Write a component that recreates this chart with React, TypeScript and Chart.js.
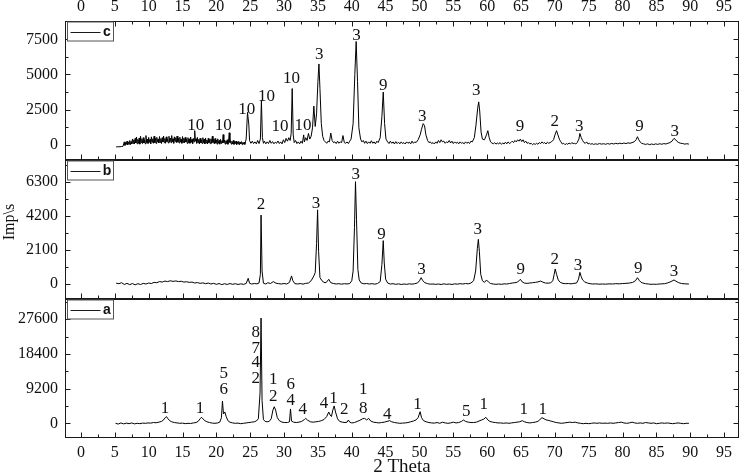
import React, { useEffect, useRef } from 'react';
import { Chart, registerables } from 'chart.js';

Chart.register(...registerables);

// ---------- data ----------
const thetaMin = -2.36;
const thetaMax = 97.2;
const thetaTicks = [0, 5, 10, 15, 20, 25, 30, 35, 40, 45, 50, 55, 60, 65, 70, 75, 80, 85, 90, 95];

const yTicksC = [0, 2500, 5000, 7500];
const yTicksB = [0, 2100, 4200, 6300];
const yTicksA = [0, 9200, 18400, 27600];

const yRangeC = [-1090, 8810];
const yRangeB = [-926, 7659];
const yRangeA = [-3897, 32955];

const panelNames = ['c', 'b', 'a'];

// sample c: [2theta, Imp/s]
const patternC: [number, number][] = [
  [5.2, -150], [5.6, -150], [6.0, -130], [6.2, -120],
  [6.4, 200], [6.5, -50], [6.6, 150], [6.7, 20], [6.8, 250], [6.9, -20], [7.0, 180], [7.1, 40], [7.2, 300], [7.3, 0],
  [7.4, 220], [7.5, 60], [7.6, 400], [7.7, 80], [7.8, 350], [7.9, 50], [8.0, 450], [8.1, 120], [8.2, 550], [8.3, 60],
  [8.4, 380], [8.5, 100], [8.6, 480], [8.7, 40], [8.8, 600], [8.9, 150], [9.0, 420], [9.1, 80], [9.2, 500], [9.3, 120],
  [9.4, 350], [9.5, 60], [9.6, 650], [9.7, 140], [9.8, 400], [9.9, 90], [10.0, 520], [10.1, 160], [10.2, 380], [10.3, 60],
  [10.4, 560], [10.5, 180], [10.6, 420], [10.7, 100], [10.8, 600], [10.9, 140], [11.0, 450], [11.1, 90], [11.2, 520], [11.3, 200],
  [11.4, 400], [11.5, 120], [11.6, 580], [11.7, 160], [11.8, 430], [11.9, 80], [12.0, 500], [12.1, 200], [12.2, 620], [12.3, 140],
  [12.4, 450], [12.5, 100], [12.6, 560], [12.7, 220], [12.8, 400], [12.9, 120], [13.0, 600], [13.1, 180], [13.2, 480], [13.3, 140],
  [13.4, 650], [13.5, 200], [13.6, 420], [13.7, 100], [13.8, 560], [13.9, 240], [14.0, 500], [14.1, 150], [14.2, 620], [14.3, 180],
  [14.4, 450], [14.5, 120], [14.6, 540], [14.7, 200], [14.8, 400], [14.9, 100], [15.0, 580], [15.1, 160], [15.2, 460], [15.3, 120],
  [15.4, 520], [15.5, 200], [15.6, 380], [15.7, 90], [15.8, 500], [15.9, 140], [16.0, 420], [16.1, 100], [16.2, 550], [16.3, 160],
  [16.4, 380], [16.5, 80], [16.6, 450], [16.7, 200], [16.8, 1000], [16.9, 250], [17.0, 420], [17.1, 100], [17.2, 520], [17.3, 140],
  [17.4, 380], [17.5, 60], [17.6, 460], [17.7, 120], [17.8, 350], [17.9, 80], [18.0, 500], [18.1, 150], [18.2, 400], [18.3, 60],
  [18.4, 480], [18.5, 120], [18.6, 330], [18.7, 50], [18.8, 450], [18.9, 140], [19.0, 360], [19.1, 70], [19.2, 420], [19.3, 100],
  [19.4, 600], [19.5, 150], [19.6, 380], [19.7, 60], [19.8, 440], [19.9, 110], [20.0, 320], [20.1, 40], [20.2, 420], [20.3, 100],
  [20.4, 300], [20.5, 40], [20.6, 380], [20.7, 90], [20.8, 280], [20.9, 120], [21.0, 720], [21.1, 150], [21.2, 330], [21.3, 40],
  [21.4, 280], [21.5, 80], [21.6, 350], [21.7, 30], [21.8, 250], [21.9, 850], [22.0, 150], [22.1, 280], [22.2, 40], [22.3, 240],
  [22.4, 60], [22.5, 300], [22.6, 20], [22.7, 220], [22.8, 70], [22.9, 260], [23.0, 10], [23.1, 200], [23.2, 50], [23.3, 240],
  [23.4, 0], [23.5, 180], [23.6, 60], [23.7, 220], [23.8, 10], [23.9, 160], [24.0, 40], [24.1, 180], [24.2, 20], [24.3, 200],
  [24.4, 400], [24.6, 2300], [24.8, 1400], [24.9, 300], [25.1, 100], [25.3, 250], [25.5, 80], [25.7, 200],
  [25.9, 60], [26.1, 300], [26.3, 80], [26.5, 400], [26.65, 3150], [26.8, 500], [26.95, 100], [27.1, 250], [27.3, 60], [27.5, 200],
  [27.7, 80], [27.9, 300], [28.1, 100], [28.3, 220], [28.5, 60], [28.7, 180], [28.9, 100], [29.1, 260], [29.3, 80], [29.5, 200],
  [29.7, 60], [29.9, 350], [30.1, 150], [30.3, 450], [30.5, 250], [30.7, 500], [30.9, 300], [31.05, 800], [31.2, 4000], [31.35, 700],
  [31.5, 150], [31.7, 300], [31.9, 80], [32.1, 200], [32.3, 60], [32.5, 250], [32.7, 100], [32.9, 700], [33.0, 200], [33.2, 500],
  [33.4, 300], [33.6, 800], [33.8, 400], [34.0, 600], [34.2, 1200], [34.4, 2750], [34.6, 1300], [34.8, 2200], [35.0, 4500], [35.15, 5750],
  [35.3, 4000], [35.5, 1500], [35.7, 600], [35.9, 300], [36.1, 200], [36.3, 100], [36.5, 250], [36.7, 200], [36.9, 830], [37.1, 300],
  [37.3, 150], [37.5, 200], [37.7, 80], [37.9, 250], [38.1, 100], [38.3, 200], [38.5, 150], [38.7, 650], [38.9, 150], [39.1, 100],
  [39.3, 200], [39.5, 80], [39.7, 250], [39.9, 400], [40.2, 1500], [40.45, 5000], [40.65, 7350], [40.85, 4500], [41.05, 1200], [41.3, 400],
  [41.5, 200], [41.7, 300], [41.9, 100], [42.1, 250], [42.3, 80], [42.5, 200], [42.7, 100], [42.9, 280], [43.1, 100], [43.3, 200],
  [43.5, 60], [43.7, 250], [43.9, 150], [44.2, 500], [44.45, 2000], [44.65, 3750], [44.85, 1500], [45.05, 400], [45.3, 200], [45.5, 80],
  [45.7, 250], [45.9, 100], [46.1, 200], [46.3, 50], [46.5, 220], [46.7, 80], [46.9, 180], [47.1, 60], [47.3, 200], [47.5, 80],
  [47.7, 150], [47.9, 50], [48.1, 200], [48.3, 100], [48.5, 180], [48.7, 60], [48.9, 250], [49.1, 100], [49.3, 200], [49.5, 150],
  [49.8, 350], [50.1, 700], [50.3, 1100], [50.55, 1500], [50.75, 1350], [50.95, 700], [51.2, 300], [51.4, 150], [51.6, 200], [51.8, 80],
  [52.0, 150], [52.2, 50], [52.4, 200], [52.6, 100], [52.8, 300], [53.0, 150], [53.2, 350], [53.4, 200], [53.6, 250], [53.8, 100],
  [54.0, 200], [54.2, 150], [54.4, 300], [54.6, 120], [54.8, 250], [55.0, 80], [55.2, 200], [55.4, 100], [55.6, 180], [55.8, 60],
  [56.0, 200], [56.2, 100], [56.4, 150], [56.6, 60], [56.8, 200], [57.0, 100], [57.2, 180], [57.4, 80], [57.6, 250], [57.8, 200],
  [58.1, 500], [58.35, 1400], [58.6, 2600], [58.75, 3050], [58.9, 2400], [59.1, 900], [59.3, 400], [59.6, 350], [59.9, 700], [60.1, 1000],
  [60.3, 500], [60.5, 200], [60.7, 120], [60.9, 60], [61.1, 150], [61.3, 40], [61.5, 120], [61.7, 60], [61.9, 150], [62.1, 30],
  [62.3, 120], [62.5, 50], [62.7, 180], [62.9, 60], [63.1, 200], [63.3, 80], [63.5, 150], [63.7, 250], [63.9, 150], [64.1, 300],
  [64.3, 200], [64.5, 350], [64.7, 250], [64.9, 400], [65.1, 220], [65.3, 350], [65.5, 150], [65.7, 250], [65.9, 100], [66.1, 150],
  [66.3, 50], [66.5, 100], [66.7, 0], [66.9, 80], [67.1, 20], [67.3, 100], [67.5, 30], [67.7, 150], [67.9, 80], [68.1, 200],
  [68.3, 100], [68.5, 150], [68.7, 50], [68.9, 180], [69.1, 100], [69.3, 150], [69.5, 200], [69.8, 350], [70.05, 750], [70.25, 1000],
  [70.45, 700], [70.7, 350], [70.9, 200], [71.1, 50], [71.3, 100], [71.5, 0], [71.7, 80], [71.9, 30], [72.1, 120], [72.3, 50],
  [72.5, 150], [72.7, 80], [72.9, 100], [73.1, 50], [73.3, 150], [73.55, 400], [73.7, 800], [73.9, 500], [74.1, 300], [74.3, 150],
  [74.5, 100], [74.7, 200], [74.9, 50], [75.1, 100], [75.3, 30], [75.5, 80], [75.7, 20], [76.0, 60], [76.3, 30], [76.6, 80],
  [76.9, 40], [77.2, 70], [77.5, 30], [77.8, 80], [78.1, 40], [78.4, 90], [78.7, 50], [79.0, 100], [79.3, 60], [79.6, 110],
  [79.9, 70], [80.2, 120], [80.5, 80], [80.8, 130], [81.1, 100], [81.4, 150], [81.7, 200], [82.0, 350], [82.2, 570], [82.4, 350],
  [82.6, 200], [82.8, 100], [83.1, 60], [83.4, 20], [83.7, 60], [84.0, 0], [84.3, 50], [84.6, 10], [84.9, 60], [85.2, 20],
  [85.5, 70], [85.8, 30], [86.1, 80], [86.4, 50], [86.7, 100], [87.0, 150], [87.3, 250], [87.6, 450], [87.8, 380], [88.0, 250],
  [88.3, 150], [88.6, 100], [88.9, 80], [89.2, 40], [89.5, 70], [89.8, 40],
];

// sample b
const patternB: [number, number][] = [
  [5.2, 50], [5.6, 20], [6.0, 80], [6.4, -30], [6.8, 40], [7.2, -40], [7.6, 30], [8.0, -50], [8.4, 20], [8.8, -30],
  [9.2, 40], [9.6, 0], [10.0, 60], [10.4, 30], [10.8, 100], [11.2, 80], [11.6, 150], [12.0, 120], [12.4, 180], [12.8, 150],
  [13.2, 200], [13.6, 160], [14.0, 190], [14.4, 150], [14.8, 170], [15.2, 120], [15.6, 140], [16.0, 100], [16.4, 120], [16.8, 60],
  [17.2, 90], [17.6, 40], [18.0, 70], [18.4, 20], [18.8, 60], [19.2, 0], [19.6, 40], [20.0, -20], [20.4, 30], [20.8, -40],
  [21.2, 20], [21.6, -30], [22.0, 30], [22.4, -20], [22.8, 20], [23.2, -30], [23.6, 10], [24.0, -20], [24.4, 30], [24.7, 350],
  [24.9, 50], [25.2, 0], [25.6, 30], [26.0, 10], [26.3, 60], [26.5, 600], [26.6, 4260], [26.75, 800], [26.95, 50], [27.3, 0],
  [27.6, 80], [28.0, 30], [28.4, 150], [28.8, 50], [29.2, 20], [29.6, 0], [30.0, 30], [30.4, 0], [30.8, 100], [31.1, 500],
  [31.3, 200], [31.6, 20], [32.0, 0], [32.4, 30], [32.8, -10], [33.2, 40], [33.6, 60], [34.0, 200], [34.4, 500], [34.6, 700],
  [34.8, 2500], [34.95, 4580], [35.1, 2000], [35.3, 400], [35.6, 200], [35.9, 100], [36.2, 80], [36.6, 290], [36.9, 80], [37.3, 30],
  [37.7, 0], [38.1, 20], [38.5, -10], [38.9, 20], [39.3, 0], [39.7, 30], [40.0, 200], [40.2, 800], [40.4, 3500], [40.55, 6320],
  [40.7, 4000], [40.9, 900], [41.1, 250], [41.4, 60], [41.8, 10], [42.2, 30], [42.6, 0], [43.0, 20], [43.4, -10], [43.8, 30],
  [44.2, 150], [44.45, 1200], [44.65, 2680], [44.8, 1300], [45.0, 300], [45.3, 60], [45.7, 0], [46.1, 20], [46.5, -20], [46.9, 10],
  [47.3, -30], [47.7, 0], [48.1, -20], [48.5, 10], [48.9, -10], [49.3, 20], [49.7, 60], [50.0, 200], [50.25, 390], [50.5, 200],
  [50.8, 80], [51.2, 20], [51.6, -10], [52.0, 0], [52.4, -20], [52.8, 0], [53.2, -30], [53.6, 10], [54.0, -20], [54.4, 0],
  [54.8, -30], [55.2, 10], [55.6, -10], [56.0, 20], [56.4, 0], [56.8, 30], [57.2, 10], [57.6, 60], [58.0, 200], [58.3, 800],
  [58.55, 2200], [58.7, 2760], [58.85, 2000], [59.05, 600], [59.3, 200], [59.6, 100], [59.9, 250], [60.2, 120], [60.5, 30], [60.9, 0],
  [61.3, -20], [61.7, 0], [62.1, -20], [62.5, 10], [62.9, 0], [63.3, 30], [63.7, 60], [64.1, 80], [64.5, 120], [64.9, 290],
  [65.2, 120], [65.5, 60], [65.9, 40], [66.3, 60], [66.7, 80], [67.1, 100], [67.5, 130], [67.9, 180], [68.2, 120], [68.6, 60],
  [69.0, 50], [69.4, 80], [69.7, 200], [69.9, 600], [70.05, 930], [70.25, 600], [70.5, 250], [70.8, 100], [71.2, 40], [71.6, 20],
  [72.0, 30], [72.4, 10], [72.8, 40], [73.2, 60], [73.5, 300], [73.7, 720], [73.9, 450], [74.1, 250], [74.4, 130], [74.8, 60],
  [75.2, 20], [75.6, 0], [76.0, 10], [76.5, -10], [77.0, 0], [77.5, -10], [78.0, 10], [78.5, 0], [79.0, 20], [79.5, 10],
  [80.0, 30], [80.5, 40], [81.0, 60], [81.5, 100], [81.9, 200], [82.2, 390], [82.45, 230], [82.7, 120], [83.0, 60], [83.4, 20],
  [83.8, 0], [84.2, -20], [84.6, -10], [85.0, -20], [85.4, 0], [85.8, 10], [86.2, 20], [86.6, 60], [87.0, 120], [87.3, 180],
  [87.6, 250], [87.9, 170], [88.3, 80], [88.7, 30], [89.2, 10], [89.8, 0],
];

// sample a
const patternA: [number, number][] = [
  [5.1, 0], [5.5, -200], [5.9, 100], [6.3, -150], [6.7, 50], [7.1, -100], [7.5, 100], [7.9, -150], [8.3, 0], [8.7, -100],
  [9.1, 50], [9.5, 0], [9.9, 100], [10.3, 50], [10.7, 200], [11.1, 150], [11.5, 300], [11.9, 500], [12.2, 900], [12.45, 1500],
  [12.65, 1750], [12.85, 1200], [13.1, 700], [13.4, 400], [13.8, 200], [14.2, 100], [14.6, 0], [15.0, 50], [15.4, -100], [15.8, 0],
  [16.2, -50], [16.6, 100], [17.0, 200], [17.3, 500], [17.6, 1200], [17.8, 1600], [18.0, 1200], [18.3, 700], [18.6, 400], [19.0, 200],
  [19.4, 50], [19.8, 0], [20.2, 100], [20.5, 300], [20.75, 1500], [20.9, 5900], [21.05, 2500], [21.25, 3000], [21.45, 1800], [21.7, 700],
  [22.0, 300], [22.4, 100], [22.8, 0], [23.2, 50], [23.6, -100], [24.0, 0], [24.4, 100], [24.8, 200], [25.2, 300], [25.6, 400],
  [25.9, 600], [26.2, 1200], [26.45, 8000], [26.6, 27900], [26.75, 6000], [26.95, 1000], [27.2, 500], [27.5, 400], [27.8, 500], [28.1, 1200],
  [28.35, 3500], [28.55, 4400], [28.75, 3500], [29.0, 1500], [29.3, 700], [29.7, 300], [30.1, 200], [30.5, 200], [30.8, 400], [30.95, 3800],
  [31.1, 600], [31.4, 300], [31.8, 200], [32.2, 300], [32.6, 500], [33.0, 1000], [33.2, 1300], [33.5, 800], [33.9, 400], [34.3, 300],
  [34.7, 400], [35.1, 500], [35.5, 700], [35.9, 1000], [36.3, 1800], [36.6, 3000], [36.8, 2200], [37.0, 1800], [37.2, 3500], [37.4, 4600],
  [37.6, 3000], [37.9, 1200], [38.2, 500], [38.6, 300], [39.0, 200], [39.3, 300], [39.5, 870], [39.7, 300], [40.0, 100], [40.4, 200],
  [40.8, 500], [41.2, 800], [41.6, 1200], [41.9, 1300], [42.2, 900], [42.5, 1300], [42.8, 600], [43.2, 300], [43.6, 200], [44.0, 100],
  [44.4, 200], [44.8, 300], [45.2, 500], [45.6, 700], [45.9, 400], [46.3, 200], [46.7, 100], [47.1, 0], [47.5, 50], [47.9, 100],
  [48.3, 200], [48.7, 400], [49.1, 600], [49.5, 900], [49.8, 1500], [50.1, 3080], [50.3, 1500], [50.6, 700], [51.0, 400], [51.4, 200],
  [51.8, 100], [52.2, 50], [52.6, 200], [53.0, 0], [53.4, 300], [53.8, 100], [54.2, 0], [54.6, 100], [55.0, 300], [55.4, 100],
  [55.8, 200], [56.2, 500], [56.5, 870], [56.8, 500], [57.2, 300], [57.6, 200], [58.0, 200], [58.4, 300], [58.8, 600], [59.2, 900],
  [59.5, 1100], [59.8, 1600], [60.1, 900], [60.4, 500], [60.8, 300], [61.2, 200], [61.6, 100], [62.0, 100], [62.4, 0], [62.8, 100],
  [63.2, 0], [63.6, 100], [64.0, 200], [64.4, 300], [64.8, 400], [65.2, 700], [65.5, 400], [65.9, 200], [66.3, 100], [66.7, 200],
  [67.1, 300], [67.5, 500], [67.8, 1000], [68.1, 1500], [68.4, 1200], [68.7, 900], [69.0, 800], [69.4, 600], [69.8, 400], [70.2, 200],
  [70.6, 100], [71.0, 0], [71.4, 100], [71.8, 200], [72.2, 300], [72.6, 200], [73.0, 300], [73.4, 100], [73.8, 0], [74.2, -100],
  [74.6, 0], [75.0, -100], [75.4, 0], [75.8, 100], [76.2, 0], [76.6, 100], [77.0, 0], [77.4, 50], [77.8, 0], [78.2, 100],
  [78.6, 0], [79.0, 100], [79.4, 200], [79.8, 300], [80.2, 100], [80.6, 0], [81.0, 100], [81.4, 300], [81.8, 100], [82.2, 0],
  [82.6, 100], [83.0, 0], [83.4, 200], [83.8, 100], [84.2, 0], [84.6, 100], [85.0, -100], [85.4, 0], [85.8, 100], [86.2, 0],
  [86.6, 100], [87.0, 0], [87.4, -100], [87.8, 0], [88.2, 100], [88.6, 0], [89.0, -100], [89.4, 0], [89.8, 0],
];

// phase labels: [2theta, Imp/s, text]
const labelsC: [number, number, string][] = [
  [16.95, 1330, '10'], [21.0, 1330, '10'], [24.5, 2520, '10'], [27.4, 3420, '10'], [29.4, 1280, '10'],
  [31.1, 4680, '10'], [32.8, 1330, '10'], [35.2, 6440, '3'], [40.7, 7810, '3'], [44.66, 4180, '9'],
  [50.4, 1990, '3'], [58.4, 3840, '3'], [64.85, 1280, '9'], [70.0, 1640, '2'], [73.6, 1280, '3'],
  [82.5, 1280, '9'], [87.7, 925, '3'],
];
const labelsB: [number, number, string][] = [
  [26.6, 4880, '2'], [34.7, 4980, '3'], [40.6, 6790, '3'], [44.4, 3030, '9'], [50.3, 905, '3'],
  [58.6, 3335, '3'], [64.95, 905, '9'], [70.0, 1525, '2'], [73.4, 1130, '3'], [82.3, 970, '9'], [87.6, 760, '3'],
];
const labelsA: [number, number, string][] = [
  [12.4, 3980, '1'], [17.6, 3980, '1'], [21.1, 8830, '6'], [21.1, 13250, '5'],
  [25.8, 24120, '8'], [25.8, 19880, '7'], [25.8, 16170, '4'], [25.8, 11930, '2'],
  [28.4, 11480, '1'], [28.4, 7050, '2'], [31.0, 10150, '6'], [31.0, 5910, '4'],
  [32.75, 3710, '4'], [35.9, 5120, '4'], [37.3, 6440, '1'], [38.9, 3530, '2'],
  [41.7, 8830, '1'], [41.7, 3980, '8'], [45.25, 2200, '4'], [49.7, 4850, '1'],
  [56.9, 3080, '5'], [59.5, 4850, '1'], [65.4, 3710, '1'], [68.2, 3710, '1'],
];

const xTitle = '2 Theta';
const yTitle = 'Imp\\s';

// ---------- styles ----------
const SERIF = '"Liberation Serif", "Times New Roman", serif';
const INK = '#111';

const panels = [
  { id: 'yC', name: panelNames[0], labels: labelsC, ticks: yTicksC },
  { id: 'yB', name: panelNames[1], labels: labelsB, ticks: yTicksB },
  { id: 'yA', name: panelNames[2], labels: labelsA, ticks: yTicksA },
];

const decorPlugin = {
  id: 'xrdDecor',
  afterDatasetsDraw(chart: any) {
    const ctx = chart.ctx as CanvasRenderingContext2D;
    const xs = chart.scales.x;
    const L = Math.round(xs.left) + 0.5;
    const R = Math.round(xs.right) - 0.5;
    ctx.save();
    ctx.strokeStyle = '#1a1a1a';
    ctx.lineWidth = 1;

    panels.forEach((p, idx) => {
      const ys = chart.scales[p.id];
      const T = Math.round(ys.top) + 0.5;
      const B = Math.round(ys.bottom) - 0.5;
      ctx.strokeStyle = '#1a1a1a';
      ctx.strokeRect(L, T, R - L, B - T);
      ctx.beginPath();
      for (let i = 0; i < thetaTicks.length; i++) {
        const v = thetaTicks[i];
        const px = Math.round(xs.getPixelForValue(v)) + 0.5;
        ctx.moveTo(px, B); ctx.lineTo(px, B - 5);
        if (idx === 0) { ctx.moveTo(px, T); ctx.lineTo(px, T + 5); }
        if (i < thetaTicks.length - 1) {
          const m = (v + thetaTicks[i + 1]) / 2;
          const pm = Math.round(xs.getPixelForValue(m)) + 0.5;
          ctx.moveTo(pm, B); ctx.lineTo(pm, B - 3);
          if (idx === 0) { ctx.moveTo(pm, T); ctx.lineTo(pm, T + 3); }
        }
      }
      const step = p.ticks[1] - p.ticks[0];
      const yVals: [number, number][] = [];
      p.ticks.forEach((v) => { yVals.push([v, 5]); yVals.push([v + step / 2, 3]); });
      yVals.push([p.ticks[0] - step / 2, 3]);
      yVals.forEach(([v, len]) => {
        const py = Math.round(ys.getPixelForValue(v)) + 0.5;
        if (py <= T + 1 || py >= B - 1) return;
        ctx.moveTo(L, py); ctx.lineTo(L + len, py);
        ctx.moveTo(R, py); ctx.lineTo(R - len, py);
      });
      ctx.stroke();

      // legend box
      const bx = L + 2, by = T + 0.5, bw = 46, bh = 19;
      ctx.fillStyle = '#fff';
      ctx.fillRect(bx, by, bw, bh);
      ctx.strokeStyle = '#555';
      ctx.strokeRect(bx, by, bw, bh);
      ctx.strokeStyle = '#1a1a1a';
      ctx.beginPath();
      ctx.moveTo(bx + 3, Math.round(by + bh / 2) + 0.5);
      ctx.lineTo(bx + 33, Math.round(by + bh / 2) + 0.5);
      ctx.stroke();
      ctx.fillStyle = INK;
      ctx.font = 'bold 14px "Liberation Sans", Arial, sans-serif';
      ctx.textAlign = 'center';
      ctx.textBaseline = 'middle';
      ctx.fillText(p.name, bx + 39.5, by + bh / 2 + 0.5);

      // phase labels
      ctx.font = `17px ${SERIF}`;
      ctx.textAlign = 'center';
      ctx.textBaseline = 'middle';
      p.labels.forEach(([tx, ty, s]) => {
        ctx.fillText(s, xs.getPixelForValue(tx), ys.getPixelForValue(ty));
      });
    });

    // axis titles
    ctx.fillStyle = INK;
    ctx.font = `19px ${SERIF}`;
    ctx.textAlign = 'center';
    ctx.textBaseline = 'middle';
    ctx.fillText(xTitle, (xs.left + xs.right) / 2, 467);
    ctx.save();
    ctx.translate(10, 222);
    ctx.rotate(-Math.PI / 2);
    ctx.font = `16px ${SERIF}`;
    ctx.fillText(yTitle, 0, 0);
    ctx.restore();
    ctx.restore();
  },
};

function yScale(range: number[], ticks: number[]) {
  return {
    type: 'linear',
    position: 'left',
    stack: 'xrd',
    stackWeight: 1,
    min: range[0],
    max: range[1],
    grid: { display: false, drawTicks: false },
    border: { display: false },
    ticks: {
      padding: 7,
      color: INK,
      font: { family: SERIF, size: 16 },
      callback: (v: number) => String(v),
    },
    afterBuildTicks: (s: any) => { s.ticks = ticks.map((v) => ({ value: v })); },
    afterFit: (s: any) => { s.width = 65; },
  };
}

function xScale(position: string, height: number) {
  return {
    type: 'linear',
    position,
    min: thetaMin,
    max: thetaMax,
    grid: { display: false, drawTicks: false },
    border: { display: false },
    ticks: {
      padding: 5,
      color: INK,
      maxRotation: 0,
      autoSkip: false,
      font: { family: SERIF, size: 16 },
      callback: (v: number) => String(v),
    },
    afterBuildTicks: (s: any) => { s.ticks = thetaTicks.map((v) => ({ value: v })); },
    afterFit: (s: any) => { s.height = height; },
  };
}

export default function App() {
  const ref = useRef<HTMLCanvasElement | null>(null);
  useEffect(() => {
    if (!ref.current) return;
    const toXY = (arr: [number, number][]) => arr.map(([x, y]) => ({ x, y }));
    const line = (data: [number, number][], yAxisID: string) => ({
      data: toXY(data),
      yAxisID,
      xAxisID: 'x',
      borderColor: '#000',
      borderWidth: 1,
      pointRadius: 0,
      tension: 0,
      fill: false,
    });
    const chart = new Chart(ref.current, {
      type: 'line',
      data: {
        datasets: [line(patternA, 'yA'), line(patternB, 'yB'), line(patternC, 'yC')],
      },
      options: {
        animation: false,
        responsive: true,
        maintainAspectRatio: false,
        parsing: false,
        layout: { padding: { left: 0, right: 2, top: 0, bottom: 0 } },
        plugins: { legend: { display: false }, tooltip: { enabled: false }, title: { display: false } },
        scales: {
          x: xScale('bottom', 37),
          xTop: xScale('top', 21),
          yA: yScale(yRangeA, yTicksA),
          yB: yScale(yRangeB, yTicksB),
          yC: yScale(yRangeC, yTicksC),
        } as any,
      } as any,
      plugins: [decorPlugin],
    });
    return () => chart.destroy();
  }, []);
  return (
    <div style={{ position: 'fixed', left: 0, top: 0, width: 741, height: 475, background: '#fff' }}>
      <canvas ref={ref} />
    </div>
  );
}
